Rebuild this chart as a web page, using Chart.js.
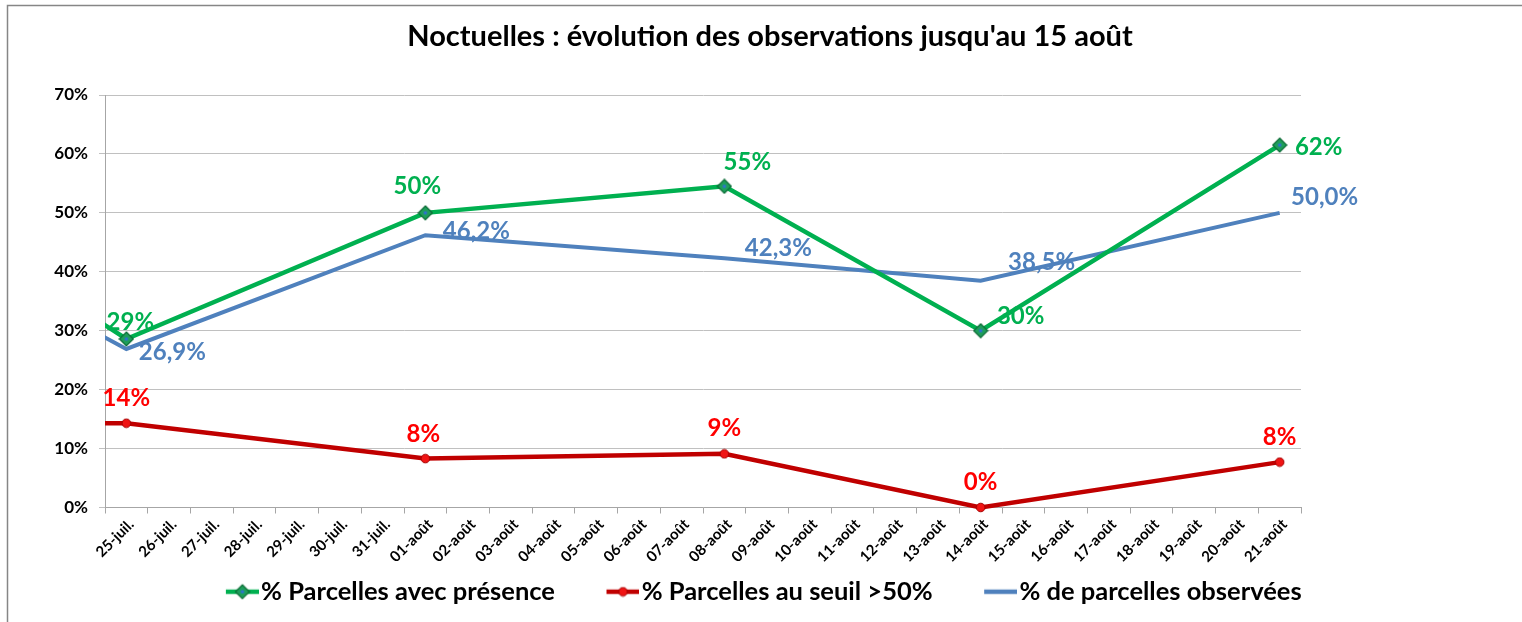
<!DOCTYPE html>
<html>
<head>
<meta charset="utf-8">
<script src="https://cdn.jsdelivr.net/npm/chart.js@4.4.1/dist/chart.umd.min.js"></script>
<style>
  html, body { margin: 0; padding: 0; background: #fff; overflow: hidden; }
  #wrap { width: 1522px; height: 622px; position: relative; }
</style>
</head>
<body>
<div id="wrap"><canvas id="chart"></canvas></div>
<script>
// all days of the x axis (24-juil. is only there so the lines come in from the left edge)
const days = ['24-juil.', '25-juil.', '26-juil.', '27-juil.', '28-juil.', '29-juil.', '30-juil.', '31-juil.',
    '01-août', '02-août', '03-août', '04-août', '05-août', '06-août', '07-août', '08-août', '09-août',
    '10-août', '11-août', '12-août', '13-août', '14-août', '15-août', '16-août', '17-août', '18-août',
    '19-août', '20-août', '21-août'];
// observation dates
const obsDates = ['24-juil.', '25-juil.', '01-août', '08-août', '14-août', '21-août'];
// values in %
const presence = [33.3, 28.6, 50.0, 54.5, 30.0, 61.5];
const seuil = [14.3, 14.3, 8.3, 9.1, 0, 7.7];
const observees = [30.8, 26.9, 46.2, 42.3, 38.5, 50.0];
const yTicks = [0, 10, 20, 30, 40, 50, 60, 70];

const FONT = 'Lato';

function points(values) {
    return obsDates.map((d, i) => ({ x: d, y: values[i] }));
}

function diamond() {
    const c = document.createElement('canvas');
    c.width = c.height = 16;
    const g = c.getContext('2d');
    const m = 8;
    g.beginPath();
    g.moveTo(m, 1); g.lineTo(15, m); g.lineTo(m, 15); g.lineTo(1, m); g.closePath();
    g.fillStyle = '#1e9e5a'; g.fill();
    g.strokeStyle = '#0b6a35'; g.lineWidth = 1.2; g.stroke();
    g.fillStyle = '#2f6fd6';
    g.fillRect(m - 1.5, m - 1.5, 3, 3);
    return c;
}

function dot() {
    const c = document.createElement('canvas');
    c.width = c.height = 11;
    const g = c.getContext('2d');
    g.beginPath();
    g.arc(5.5, 5.5, 4.3, 0, Math.PI * 2);
    g.fillStyle = '#f01414'; g.fill();
    g.strokeStyle = '#a30000'; g.lineWidth = 1; g.stroke();
    return c;
}

const greenMark = diamond();
const redMark = dot();

// legend icon: line with marker, drawn at the right end of a wider transparent canvas
const ICON_BOX = 64;
function legendIcon(color, mark) {
    const c = document.createElement('canvas');
    c.width = ICON_BOX + 21;
    c.height = 20;
    const g = c.getContext('2d');
    g.strokeStyle = color;
    g.lineWidth = 4.5;
    g.beginPath();
    g.moveTo(c.width - 33, 10); g.lineTo(c.width, 10);
    g.stroke();
    if (mark) g.drawImage(mark, c.width - 16.5 - mark.width / 2, 10 - mark.height / 2);
    return c;
}

const pct = v => Math.round(v) + '%';
const pct1 = v => v.toFixed(1).replace('.', ',') + '%';

const valueLabels = {
    id: 'valueLabels',
    beforeDatasetsDraw(chart) {
        const ctx = chart.ctx;
        ctx.save();
        ctx.font = 'bold 24px ' + FONT;
        ctx.textAlign = 'center';
        ctx.textBaseline = 'alphabetic';
        chart.data.datasets.forEach((ds, i) => {
            const meta = chart.getDatasetMeta(i);
            meta.data.forEach((pt, j) => {
                const off = ds.labelOffsets[j];
                if (!off) return;
                ctx.fillStyle = ds.labelColor;
                ctx.fillText(ds.labelFormat(ds.data[j].y), pt.x + off[0], pt.y + off[1] + 8.6);
            });
        });
        ctx.restore();
    }
};

const frame = {
    id: 'frame',
    beforeDraw(chart) {
        const ctx = chart.ctx;
        ctx.save();
        ctx.strokeStyle = '#868686';
        ctx.lineWidth = 1.5;
        ctx.beginPath();
        ctx.moveTo(7.5, chart.height);
        ctx.lineTo(7.5, 5.5);
        ctx.lineTo(chart.width, 5.5);
        ctx.stroke();
        ctx.restore();
    },
    afterLayout(chart) {
        chart.titleBlock.left += 9;
        chart.titleBlock.right += 9;
        chart.legend.left -= 18;
        chart.legend.right -= 18;
    }
};

const legendIcons = [legendIcon('#00B050', greenMark), legendIcon('#C00000', redMark), legendIcon('#4F81BD', null)];

new Chart(document.getElementById('chart'), {
    type: 'line',
    data: {
        labels: days,
        datasets: [{
            label: '% Parcelles avec présence',
            data: points(presence),
            borderColor: '#00B050',
            borderWidth: 4.5,
            pointStyle: greenMark,
            labelColor: '#00B050',
            labelFormat: pct,
            labelOffsets: [null, [4, -18], [-8, -27], [23, -25], [40, -15], [39, 1]]
        }, {
            label: '% Parcelles au seuil >50%',
            data: points(seuil),
            borderColor: '#C00000',
            borderWidth: 4.5,
            pointStyle: redMark,
            labelColor: '#FF0000',
            labelFormat: pct,
            labelOffsets: [null, [0, -26], [-2, -25], [0, -26], [0, -26], [0, -26]]
        }, {
            label: '% de parcelles observées',
            data: points(observees),
            borderColor: '#4F81BD',
            borderWidth: 4,
            pointRadius: 0,
            labelColor: '#4F81BD',
            labelFormat: pct1,
            labelOffsets: [null, [46, 2], [51, -5], [54, -11], [61, -19], [45, -16]]
        }]
    },
    options: {
        responsive: true,
        maintainAspectRatio: false,
        animation: false,
        layout: { padding: { left: 0, right: 0, top: 0, bottom: 7.5 } },
        datasets: {
            line: {
                tension: 0,
                spanGaps: true,
                fill: false,
                clip: { left: 0, top: 20, right: 20, bottom: 20 }
            }
        },
        scales: {
            x: {
                type: 'category',
                min: '25-juil.',
                offset: true,
                grid: { offset: true, drawOnChartArea: false, color: '#a6a6a6', tickLength: 6 },
                border: { color: '#a6a6a6' },
                ticks: {
                    autoSkip: false,
                    minRotation: 45,
                    maxRotation: 45,
                    color: '#000',
                    padding: 2,
                    labelOffset: 5,
                    font: { family: FONT, size: 15, weight: 'bold' }
                },
                afterFit(s) { s.height = 61.5; }
            },
            y: {
                min: 0,
                max: 70,
                afterBuildTicks(s) { s.ticks = yTicks.map(v => ({ value: v })); },
                grid: { color: '#c0c0c0', tickLength: 6 },
                border: { color: '#a6a6a6' },
                ticks: {
                    color: '#000',
                    padding: 11,
                    font: { family: FONT, size: 17, weight: 'bold' },
                    callback: v => v + '%'
                },
                afterFit(s) { s.width = 105; }
            },
            y2: {
                position: 'right',
                grid: { display: false },
                border: { display: false },
                ticks: { display: false },
                afterFit(s) { s.width = 221; }
            }
        },
        plugins: {
            tooltip: { enabled: false },
            title: {
                display: true,
                text: "Noctuelles : évolution des observations jusqu'au 15 août",
                color: '#000',
                font: { family: FONT, size: 29, weight: 'bold', lineHeight: 1.2 },
                padding: { top: 19, bottom: 41.2 }
            },
            legend: {
                position: 'bottom',
                labels: {
                    usePointStyle: true,
                    pointStyleWidth: ICON_BOX,
                    padding: 10,
                    color: '#000',
                    font: { family: FONT, size: 25.5, weight: 'bold' },
                    generateLabels: chart => chart.data.datasets.map((d, i) => ({
                        text: d.label,
                        pointStyle: legendIcons[i],
                        fillStyle: 'transparent',
                        strokeStyle: 'transparent',
                        lineWidth: 0,
                        fontColor: '#000',
                        hidden: false,
                        datasetIndex: i
                    }))
                }
            }
        }
    },
    plugins: [valueLabels, frame]
});
</script>
</body>
</html>
